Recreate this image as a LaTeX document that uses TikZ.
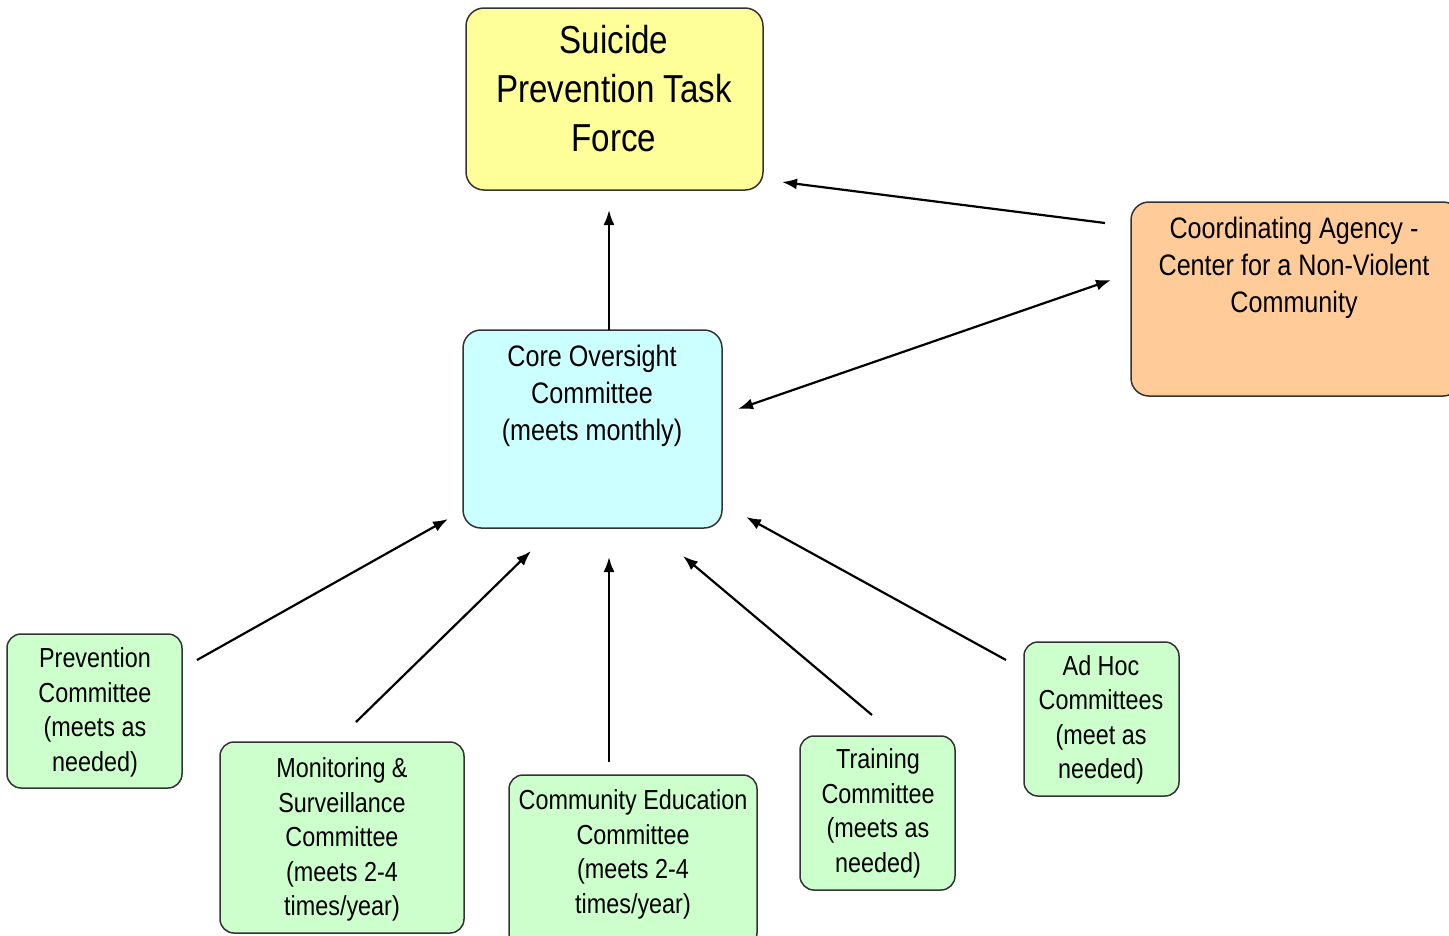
\documentclass[tikz,border=0pt]{standalone}
\usepackage{fontspec}
\setmainfont{Liberation Sans}[FakeStretch=0.85]
\usetikzlibrary{arrows.meta}
\definecolor{tfyellow}{HTML}{FFFF99}
\definecolor{coorange}{HTML}{FFCC99}
\definecolor{corecyan}{HTML}{CCFFFF}
\definecolor{comgreen}{HTML}{CCFFCC}
\definecolor{edgegray}{HTML}{333333}
\tikzset{
  boxshape/.style={draw=edgegray, line width=1.5pt, rounded corners=18pt, inner sep=0pt},
  smallbox/.style={boxshape, fill=comgreen, rounded corners=14pt},
  bigtext/.style={align=center, inner sep=0pt, font=\fontsize{39}{49}\selectfont},
  midtext/.style={align=center, inner sep=0pt, font=\fontsize{29.6}{37}\selectfont},
  smalltext/.style={align=center, inner sep=0pt, font=\fontsize{27.5}{34.5}\selectfont},
  link/.style={line width=2.2pt, -{Latex[length=15pt,width=11pt]}},
}
\begin{document}
\begin{tikzpicture}[x=1pt,y=-1pt]
\useasboundingbox (0,0) rectangle (1449,935);
\clip (0,0) rectangle (1449,935);
% boxes
\node[boxshape, fill=tfyellow, minimum width=297pt, minimum height=182pt] (tf) at (614.5,99) {};
\node[boxshape, fill=coorange, minimum width=330pt, minimum height=194pt] (coord) at (1296,299) {};
\node[boxshape, fill=corecyan, minimum width=259pt, minimum height=198pt] (core) at (592.5,429) {};
\node[smallbox, minimum width=175pt, minimum height=154pt] (prev) at (94.5,711) {};
\node[smallbox, minimum width=244pt, minimum height=191pt] (mon) at (342,837.5) {};
\node[smallbox, minimum width=248pt, minimum height=172pt] (comm) at (633,861) {};
\node[smallbox, minimum width=155pt, minimum height=154pt] (train) at (877.5,813) {};
\node[smallbox, minimum width=155pt, minimum height=154pt] (adhoc) at (1101.5,719) {};
% texts
\node[bigtext] (tftext) at (614,89) {Suicide\\Prevention Task\\Force};
\node[midtext] (coordtext) at (1294,267.5) {Coordinating Agency -\\Center for a Non-Violent\\Community};
\node[midtext] (coretext) at (592,396) {Core Oversight\\Committee\\(meets monthly)};
\node[smalltext] (prevtext) at (95,712.5) {Prevention\\Committee\\(meets as\\needed)};
\node[smalltext] (montext) at (342,839.5) {Monitoring \&\\Surveillance\\Committee\\(meets 2-4\\times/year)};
\node[smalltext] (commtext) at (633,854.5) {Community Education\\Committee\\(meets 2-4\\times/year)};
\node[smalltext] (traintext) at (878,813.5) {Training\\Committee\\(meets as\\needed)};
\node[smalltext] (adhoctext) at (1101,720) {Ad Hoc\\Committees\\(meet as\\needed)};
% connector end points
\coordinate (coreTop) at (609,330);
\coordinate (tfBot) at (609,210);
\coordinate (coordL) at (1105,223);
\coordinate (tfR) at (782,182);
\coordinate (coreR) at (738,409);
\coordinate (coordL2) at (1111,280);
\coordinate (prevOut) at (197,660);
\coordinate (coreIn1) at (448,519);
\coordinate (monOut) at (356,722);
\coordinate (coreIn2) at (531,551);
\coordinate (commOut) at (609,762);
\coordinate (coreIn3) at (609,557);
\coordinate (trainOut) at (872,715);
\coordinate (coreIn4) at (683,556);
\coordinate (adhocOut) at (1006,660);
\coordinate (coreIn5) at (746,517);
% connectors
\draw[link] (coreTop) -- (tfBot);
\draw[link] (coordL) -- (tfR);
\draw[link, {Latex[length=15pt,width=11pt]}-{Latex[length=15pt,width=11pt]}] (coreR) -- (coordL2);
\draw[link] (prevOut) -- (coreIn1);
\draw[link] (monOut) -- (coreIn2);
\draw[link] (commOut) -- (coreIn3);
\draw[link] (trainOut) -- (coreIn4);
\draw[link] (adhocOut) -- (coreIn5);
\end{tikzpicture}
\end{document}
